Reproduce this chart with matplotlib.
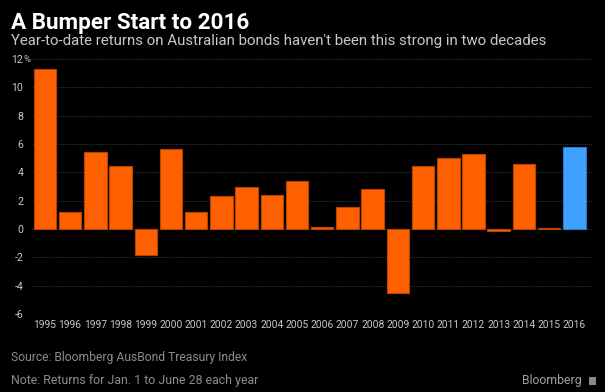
import matplotlib
matplotlib.use("Agg")
import matplotlib.pyplot as plt
from matplotlib.patches import Rectangle
from matplotlib.transforms import blended_transform_factory

years = ["1995", "1996", "1997", "1998", "1999", "2000", "2001", "2002", "2003", "2004", "2005",
         "2006", "2007", "2008", "2009", "2010", "2011", "2012", "2013", "2014", "2015", "2016"]
returns = [11.3, 1.18, 5.45, 4.42, -1.86, 5.67, 1.18, 2.3, 2.96, 2.38, 3.36,
           0.14, 1.55, 2.85, -4.5, 4.47, 5.03, 5.27, -0.14, 4.56, 0.05, 5.76]
highlight_year = "2016"
y_ticks = [-6, -4, -2, 0, 2, 4, 6, 8, 10, 12]

title = "A Bumper Start to 2016"
subtitle = "Year-to-date returns on Australian bonds haven't been this strong in two decades"
source = "Source: Bloomberg AusBond Treasury Index"
note = "Note: Returns for Jan. 1 to June 28 each year"

FONT = "Roboto"
ORANGE = "#ff6000"
BLUE = "#3fa1ff"
TICK = "#c8c8c8"

fig = plt.figure(figsize=(6.05, 3.92), dpi=100, facecolor="black")
ax = fig.add_axes([31 / 605, 1 - 314 / 392, (592 - 31) / 605, (314 - 59) / 392])
ax.set_facecolor("black")

x = list(range(len(years)))
colors = [BLUE if y == highlight_year else ORANGE for y in years]
edges = ["#2a7acc" if y == highlight_year else "#b84400" for y in years]
ax.bar(x, returns, width=0.89, color=colors, edgecolor=edges, linewidth=0.8, zorder=3)

ax.set_xlim(-0.55, len(years) - 0.3)
ax.set_ylim(-6, 12)
ax.set_yticks(y_ticks)
ax.set_yticklabels([str(v) for v in y_ticks])
ax.set_xticks(x)
ax.set_xticklabels(years)
for s in ax.spines.values():
    s.set_visible(False)
ax.tick_params(axis="both", length=0, colors=TICK)
ax.tick_params(axis="y", pad=5.5)
ax.tick_params(axis="x", pad=4)
for lab in ax.get_yticklabels():
    lab.set_fontfamily(FONT)
    lab.set_fontsize(7.6)
for lab in ax.get_xticklabels():
    lab.set_fontfamily(FONT)
    lab.set_fontsize(7.4)
    lab.set_x(lab.get_position()[0])
ax.grid(axis="y", color="#333333", linestyle=(0, (1, 1)), linewidth=0.8, zorder=0)
ax.grid(axis="x", visible=False)

# percent sign after top tick label
tr = blended_transform_factory(fig.transFigure, ax.transData)
fig.text(23.5 / 605, 12, "%", transform=tr, ha="left", va="center",
         color=TICK, fontsize=6.8, fontfamily=FONT)

fig.text(11 / 605, 1 - 29 / 392, title, color="white", fontsize=16.2,
         fontweight="bold", fontfamily=FONT, ha="left", va="baseline")
fig.text(11 / 605, 1 - 45 / 392, subtitle, color="#c8c8c8", fontsize=10.8,
         fontfamily=FONT, ha="left", va="baseline")
fig.text(11 / 605, 1 - 361 / 392, source, color="#8c8c8c", fontsize=8.7,
         fontfamily=FONT, ha="left", va="baseline")
fig.text(11 / 605, 1 - 384 / 392, note, color="#8c8c8c", fontsize=8.9,
         fontfamily=FONT, ha="left", va="baseline")
fig.text(582 / 605, 1 - 384 / 392, "Bloomberg", color="#a0a0a0", fontsize=8.8,
         fontfamily=FONT, ha="right", va="baseline")
fig.patches.append(Rectangle((589 / 605, 1 - 385 / 392), 7 / 605, 8 / 392,
                             transform=fig.transFigure, facecolor="#8a8a8a",
                             edgecolor="none"))

fig.savefig("out.png", dpi=100, facecolor="black")
